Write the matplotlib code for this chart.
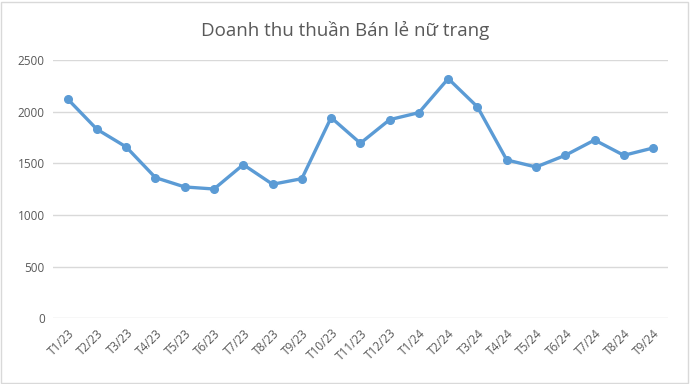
import matplotlib
matplotlib.use("Agg")
import matplotlib.pyplot as plt
from matplotlib.patches import Rectangle

months = ["T1/23", "T2/23", "T3/23", "T4/23", "T5/23", "T6/23", "T7/23", "T8/23",
          "T9/23", "T10/23", "T11/23", "T12/23", "T1/24", "T2/24", "T3/24", "T4/24",
          "T5/24", "T6/24", "T7/24", "T8/24", "T9/24"]
revenue = [2122, 1829, 1658, 1361, 1271, 1251, 1487, 1297, 1351, 1942, 1694,
           1922, 1990, 2319, 2045, 1532, 1464, 1577, 1725, 1577, 1648]
yticks = [0, 500, 1000, 1500, 2000, 2500]

txt = "#595959"
blue = "#5B9BD5"
grid = "#D9D9D9"

plt.rcParams["font.family"] = ["Open Sans", "DejaVu Sans"]

fig = plt.figure(figsize=(6.9, 3.84), dpi=100)
# light chart border like the Excel original
fig.patches.append(Rectangle((0.002, 0.003), 0.995, 0.993, transform=fig.transFigure,
                             fill=False, edgecolor=grid, linewidth=1))
ax = fig.add_axes([0.0768, 0.171, 0.891, 0.673])

x = list(range(len(months)))
ax.plot(x, revenue, color=blue, linewidth=2.4, marker="o", markersize=5.5, zorder=3)

ax.set_xlim(-0.5, len(months) - 0.5)
ax.set_ylim(0, 2500)
ax.set_yticks(yticks)
ax.set_yticklabels([str(v) for v in yticks], color=txt, fontsize=8.5)
ax.set_xticks(x)
ax.set_xticklabels(months, rotation=45, ha="right", rotation_mode="anchor",
                   color=txt, fontsize=8.5)
ax.tick_params(axis="both", length=0, pad=6)
ax.grid(axis="y", color=grid, linewidth=1)
ax.set_axisbelow(True)
for s in ax.spines.values():
    s.set_visible(False)

fig.text(0.5, 0.92, "Doanh thu thuần Bán lẻ nữ trang", ha="center", va="center",
         color=txt, fontsize=13.5)

fig.savefig("out.png", dpi=100)
